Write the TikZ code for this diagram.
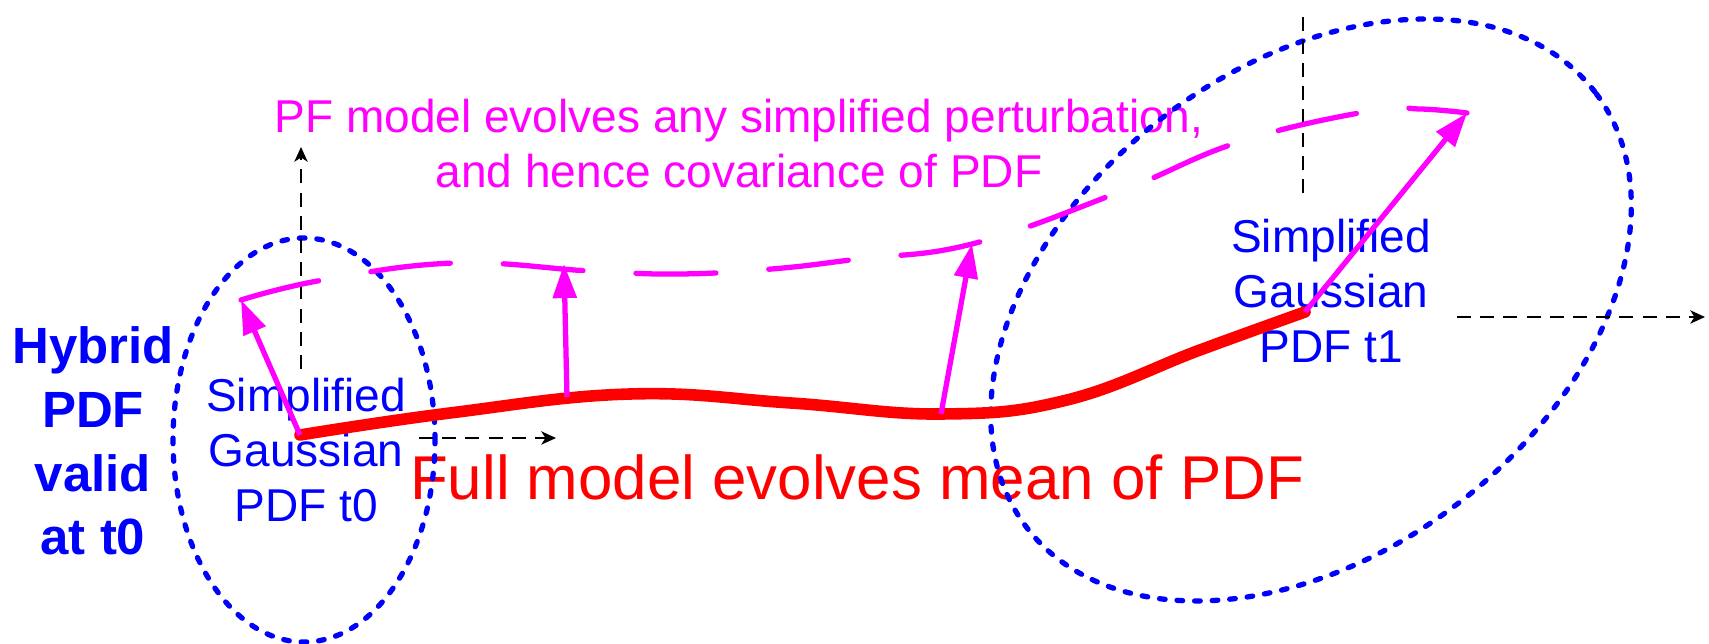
\documentclass[tikz,border=0pt]{standalone}
\usepackage{fontspec}
\setmainfont{Liberation Sans}
\usepackage{xcolor}
\usepackage{tikz}
\usetikzlibrary{arrows.meta, calc}

\definecolor{pdfblue}{RGB}{0,0,255}
\definecolor{pfmagenta}{RGB}{255,0,255}
\definecolor{meanred}{RGB}{255,0,0}

\begin{document}
\begin{tikzpicture}[
    ring/.style={pdfblue, line width=1.5pt, line cap=round, dash pattern=on 1.6pt off 3.4pt},
    axis/.style={black, line width=0.5pt, dash pattern=on 4pt off 2.6pt},
    axisarrow/.style={axis, -{Stealth[length=4.2pt, width=3.8pt, inset=1.2pt]}},
    meanpath/.style={meanred, line width=3.3pt, line cap=round},
    pfpath/.style={pfmagenta, line width=1.5pt, line cap=round, dash pattern=on 0.80cm off 0.53cm},
    pfarrow/.style={pfmagenta, line width=1.5pt, -{Triangle[length=9.7pt, width=6.6pt]}},
    lbl/.style={pdfblue, font=\fontsize{13.1}{15.65}\selectfont, align=center, inner sep=0pt}
]
    \useasboundingbox (0,0) rectangle (17.09,6.44);

    % Means on the full model path
    \coordinate (m0) at (3.00,2.09);
    \coordinate (m1) at (5.67,2.47);
    \coordinate (m2) at (9.41,2.30);
    \coordinate (m3) at (13.05,3.32);

    % Perturbed states
    \coordinate (p0) at (2.41,3.44);
    \coordinate (p1) at (5.64,3.80);
    \coordinate (p2) at (9.72,4.00);
    \coordinate (p3) at (14.67,5.31);

    % Axes ends at t0 and t1
    \coordinate (t0ybot) at (3.01,2.75);
    \coordinate (t0ytop) at (3.01,4.97);
    \coordinate (t0xbeg) at (4.19,2.06);
    \coordinate (t0xend) at (5.56,2.06);
    \coordinate (t1ybot) at (13.03,4.51);
    \coordinate (t1ytop) at (13.03,6.34);
    \coordinate (t1xbeg) at (14.57,3.27);
    \coordinate (t1xend) at (17.05,3.27);

    % Labels
    \node[lbl, font=\bfseries\fontsize{14.5}{18.1}\selectfont] (hybrid) at (0.93,2.03) {Hybrid\\PDF\\valid\\at t0};
    \node[lbl] (gauss0) at (3.06,1.94) {Simplified\\Gaussian\\PDF t0};
    \node[lbl] (gauss1) at (13.31,3.53) {Simplified\\Gaussian\\PDF t1};
    \node[lbl, pfmagenta] (pftext) at (7.39,5.00) {PF model evolves any simplified perturbation,\\and hence covariance of PDF};
    \node[meanred, font=\fontsize{17.6}{21}\selectfont, anchor=base, inner sep=0pt] (fulltext) at (8.57,1.44) {Full model evolves mean of PDF};

    % PDF contours
    \draw[ring] (3.04,2.04) ellipse [x radius=1.31, y radius=2.02];
    \draw[ring, rotate around={37.5:(13.11,3.34)}] (13.11,3.34) ellipse [x radius=3.58, y radius=2.43];

    % Axes
    \draw[axisarrow] (t0ybot) -- (t0ytop);
    \draw[axisarrow] (t0xbeg) -- (t0xend);
    \draw[axis] (t1ybot) -- (t1ytop);
    \draw[axisarrow] (t1xbeg) -- (t1xend);

    % Mean path
    \draw[meanpath] plot[smooth, tension=0.7] coordinates {(m0) (4.50,2.31) (6.30,2.50) (7.91,2.41) (m2) (10.67,2.44) (12.00,2.94) (m3)};

    % Perturbation path
    \draw[pfpath] plot[smooth, tension=0.7] coordinates {(p0) (3.23,3.64) (4.55,3.81) (5.90,3.73) (6.80,3.70) (7.72,3.75) (8.58,3.85) (p2) (11.17,4.51) (12.39,5.02) (13.70,5.33) (14.20,5.35) (p3)};
    \draw[pfarrow] (m0) -- (p0);
    \draw[pfarrow] (m1) -- (p1);
    \draw[pfarrow] (m2) -- (p2);
    \draw[pfarrow] (m3) -- (p3);
\end{tikzpicture}
\end{document}
